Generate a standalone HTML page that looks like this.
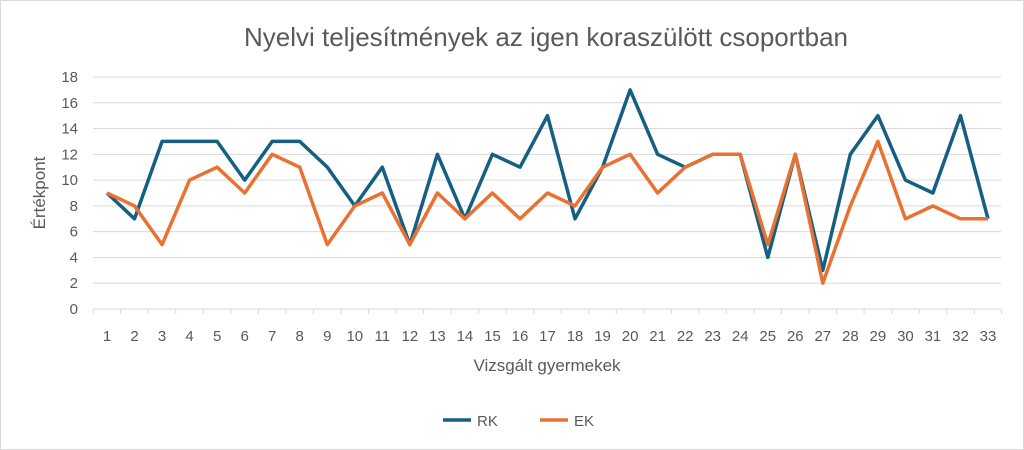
<!DOCTYPE html>
<html><head><meta charset="utf-8"><style>
body{margin:0;background:#fff}
svg{display:block;font-family:"Liberation Sans",sans-serif}
</style></head><body>
<svg width="1024" height="450" viewBox="0 0 1024 450" xmlns="http://www.w3.org/2000/svg">
<rect x="0.5" y="0.5" width="1023" height="449" fill="#fff" stroke="#d9d9d9"/>
<text x="546" y="46" font-size="26" fill="#595959" text-anchor="middle">Nyelvi teljesítmények az igen koraszülött csoportban</text>
<g id="grid" stroke="#d9d9d9" stroke-width="1"></g>
<g id="ylab" font-size="15" fill="#595959" text-anchor="end"></g>
<g id="xlab" font-size="15" fill="#595959" text-anchor="middle"></g>
<text x="547" y="371" font-size="17" fill="#595959" text-anchor="middle">Vizsgált gyermekek</text>
<text transform="translate(45,193) rotate(-90)" font-size="17" fill="#595959" text-anchor="middle">Értékpont</text>
<polyline id="rk" fill="none" stroke="#156082" stroke-width="3.5" stroke-linejoin="round"/>
<polyline id="ek" fill="none" stroke="#E97132" stroke-width="3.5" stroke-linejoin="round"/>
<line x1="443" y1="420" x2="471" y2="420" stroke="#156082" stroke-width="3.5"/>
<text x="477" y="426" font-size="15" fill="#595959">RK</text>
<line x1="540" y1="420" x2="568" y2="420" stroke="#E97132" stroke-width="3.5"/>
<text x="574" y="426" font-size="15" fill="#595959">EK</text>
</svg>
<script>
const ns="http://www.w3.org/2000/svg";
const y0=309,yu=(309-77)/18,x0=107,xs=(988-107)/32;
const g=document.getElementById("grid"),yl=document.getElementById("ylab"),xl=document.getElementById("xlab");
for(let v=0;v<=18;v+=2){const y=y0-v*yu;const l=document.createElementNS(ns,"line");
l.setAttribute("x1",93);l.setAttribute("x2",1001);l.setAttribute("y1",y);l.setAttribute("y2",y);g.appendChild(l);
const t=document.createElementNS(ns,"text");t.setAttribute("x",78);t.setAttribute("y",y+5);t.textContent=v;yl.appendChild(t);}
for(let k=0;k<=33;k++){const x=93.2+k*xs;const l=document.createElementNS(ns,"line");
l.setAttribute("x1",x);l.setAttribute("x2",x);l.setAttribute("y1",y0);l.setAttribute("y2",y0+5);g.appendChild(l);}
for(let i=0;i<33;i++){const t=document.createElementNS(ns,"text");t.setAttribute("x",x0+i*xs);t.setAttribute("y",341);t.textContent=i+1;xl.appendChild(t);}
const rk=[9,7,13,13,13,10,13,13,11,8,11,5,12,7,12,11,15,7,11,17,12,11,12,12,4,12,3,12,15,10,9,15,7];
const ek=[9,8,5,10,11,9,12,11,5,8,9,5,9,7,9,7,9,8,11,12,9,11,12,12,5,12,2,8,13,7,8,7,7];
const pts=a=>a.map((v,i)=>(x0+i*xs).toFixed(1)+","+(y0-v*yu).toFixed(1)).join(" ");
document.getElementById("rk").setAttribute("points",pts(rk));
document.getElementById("ek").setAttribute("points",pts(ek));
</script>
</body></html>
